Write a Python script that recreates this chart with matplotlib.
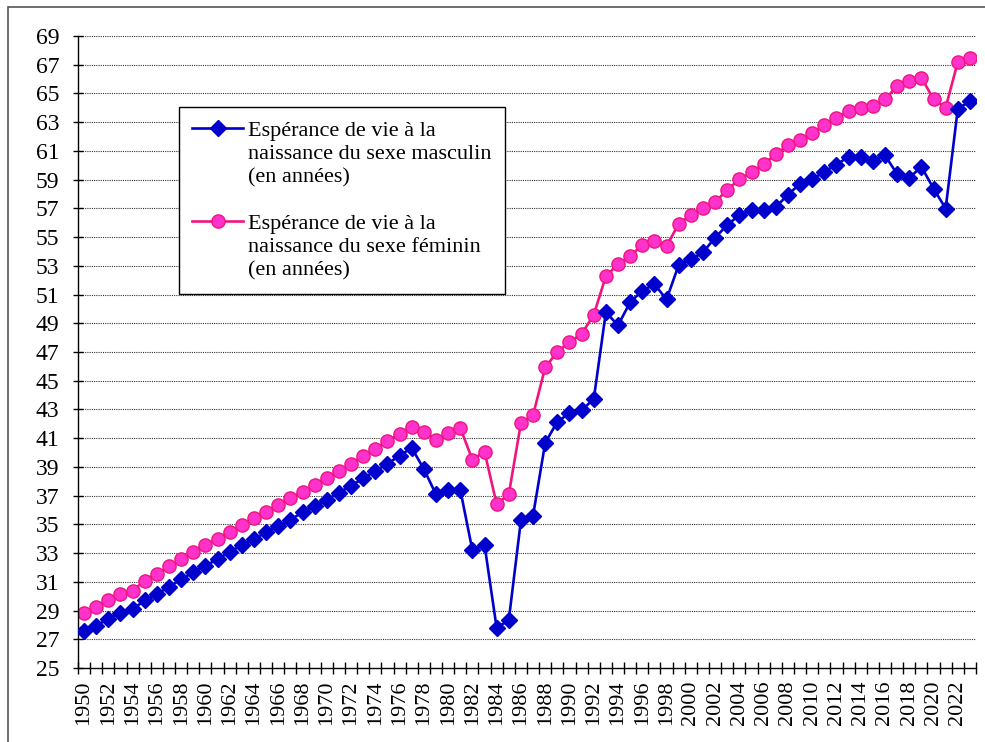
import numpy as np
import matplotlib
matplotlib.use('Agg')
from matplotlib import pyplot as plt
from matplotlib.lines import Line2D
from matplotlib.patches import Rectangle

plt.rcParams['font.family'] = ['Liberation Serif', 'DejaVu Serif']

#data
years = list(range(1950, 2024))
male = [27.55, 27.94, 28.43, 28.80, 29.10, 29.70, 30.14, 30.65, 31.18, 31.67,
        32.11, 32.59, 33.08, 33.56, 33.98, 34.44, 34.88, 35.32, 35.84, 36.29,
        36.72, 37.19, 37.69, 38.20, 38.71, 39.22, 39.78, 40.33, 38.85, 37.09,
        37.37, 37.42, 33.20, 33.57, 27.79, 28.34, 35.29, 35.61, 40.68, 42.14,
        42.74, 42.97, 43.71, 49.78, 48.85, 50.47, 51.26, 51.72, 50.66, 53.06,
        53.44, 53.94, 54.96, 55.84, 56.54, 56.86, 56.90, 57.08, 57.96, 58.70,
        59.02, 59.56, 60.04, 60.60, 60.55, 60.32, 60.69, 59.39, 59.12, 59.90,
        58.38, 56.99, 63.93, 64.46]
female = [28.82, 29.26, 29.72, 30.14, 30.37, 31.09, 31.57, 32.08, 32.57, 33.08,
          33.56, 34.00, 34.49, 34.93, 35.42, 35.88, 36.34, 36.83, 37.26, 37.74,
          38.25, 38.71, 39.22, 39.78, 40.24, 40.80, 41.31, 41.81, 41.44, 40.89,
          41.35, 41.72, 39.50, 40.06, 36.40, 37.09, 42.05, 42.60, 45.94, 47.00,
          47.69, 48.25, 49.59, 52.28, 53.11, 53.67, 54.45, 54.73, 54.36, 55.94,
          56.52, 57.05, 57.43, 58.29, 59.03, 59.50, 60.08, 60.76, 61.40, 61.75,
          62.24, 62.77, 63.31, 63.79, 63.98, 64.12, 64.58, 65.53, 65.90, 66.11,
          64.60, 64.02, 67.19, 67.50]
y_ticks = list(range(25, 70, 2))
label_male = ['Espérance de vie à la', 'naissance du sexe masculin', '(en années)']
label_female = ['Espérance de vie à la', 'naissance du sexe féminin', '(en années)']

#figure
fig = plt.figure(figsize=(9.85, 7.42), dpi=100)
ax = fig.add_axes([78/985, 1 - 668/742, 898/985, 632/742])

x = np.arange(len(years))

#gridlines
for v in y_ticks[1:]:
    ax.axhline(v, color='#333333', lw=0.8, ls=(0, (1, 1)), zorder=1)

line_m, = ax.plot(x, male, color='#0000CC', lw=1.9, marker='D', ms=8.5,
                  mfc='#0000CC', mec='#0000CC', zorder=3)
line_f, = ax.plot(x, female, color='#F0147F', lw=1.9, marker='o', ms=9.5,
                  mfc='#FF33CC', mec='#F0147F', mew=1, zorder=2)

#axes
ax.set_xlim(-0.5, len(years) - 0.5)
ax.set_ylim(25, 69)
ax.set_yticks(y_ticks)
ax.set_yticklabels([str(v) for v in y_ticks], fontsize=17)
ax.tick_params(axis='y', direction='inout', length=7, width=1, pad=10)

ax.set_xticks(np.arange(-0.5, len(years), 1))
ax.set_xticklabels([])
ax.tick_params(axis='x', which='major', direction='inout', length=8, width=1)
ax.set_xticks(x[::2], minor=True)
ax.set_xticklabels([str(y) for y in years[::2]], minor=True, rotation=90, fontsize=16)
ax.tick_params(axis='x', which='minor', length=0, pad=9)

for s in ['top', 'right']:
    ax.spines[s].set_visible(False)
ax.spines['left'].set_linewidth(1)
ax.spines['bottom'].set_linewidth(1)

#legend
blank = Line2D([], [], color='none')
handles = [line_m, blank, blank, blank, line_f, blank, blank]
labels = label_male + [' '] + label_female
leg = fig.legend(handles, labels, loc='upper left', bbox_to_anchor=(179/985, 1 - 107/742),
                 bbox_transform=fig.transFigure, borderaxespad=0, fontsize=16,
                 frameon=True, fancybox=False, edgecolor='black', framealpha=1,
                 handlelength=2.3, handletextpad=0.2, labelspacing=0.12,
                 borderpad=0.6, numpoints=1)
leg.get_frame().set_linewidth(1)

#outer border
fig.patches.append(Rectangle((8/985, -0.1), 1.2, 1 - 7/742 + 0.1, transform=fig.transFigure,
                             fill=False, edgecolor='#555555', lw=1.2))

fig.savefig('out.png', dpi=100)
